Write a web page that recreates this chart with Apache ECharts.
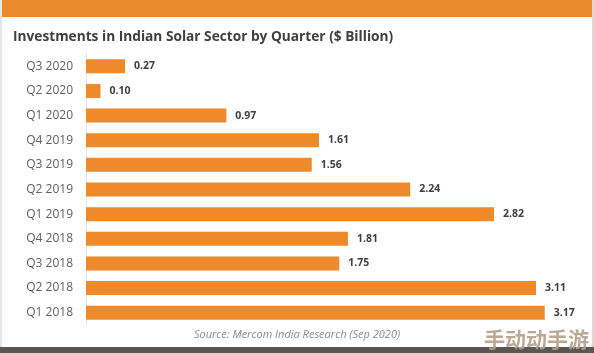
<!DOCTYPE html>
<html>
<head>
<meta charset="utf-8">
<script src="https://cdn.jsdelivr.net/npm/echarts@6/dist/echarts.min.js"></script>
<style>
  html, body { margin: 0; padding: 0; background: #fff; }
  #chart { width: 594px; height: 353px; }
</style>
</head>
<body>
<div id="chart"></div>
<script>
// quarters, top to bottom as in the picture
const quarters = ['Q3 2020', 'Q2 2020', 'Q1 2020', 'Q4 2019', 'Q3 2019', 'Q2 2019',
  'Q1 2019', 'Q4 2018', 'Q3 2018', 'Q2 2018', 'Q1 2018'];
const investments = [0.27, 0.10, 0.97, 1.61, 1.56, 2.24, 2.82, 1.81, 1.75, 3.11, 3.17];

const chart = echarts.init(document.getElementById('chart'));
chart.setOption({
  backgroundColor: '#fff',
  animation: false,
  title: {
    text: 'Investments in Indian Solar Sector by Quarter ($ Billion)',
    left: 8,
    top: 25,
    textStyle: { fontFamily: 'Open Sans', fontWeight: 'bold', fontSize: 13.7, color: '#404040' }
  },
  grid: { left: 86, right: 16, top: 54, bottom: 28, containLabel: false },
  xAxis: {
    type: 'value',
    min: 0,
    max: 3.4,
    show: false
  },
  yAxis: {
    type: 'category',
    data: quarters,
    inverse: true,
    axisLine: { show: true, lineStyle: { color: '#e3e3e3', width: 1 } },
    axisTick: { show: false },
    axisLabel: { color: '#606060', fontFamily: 'Open Sans', fontSize: 12, margin: 13 }
  },
  series: [{
    type: 'bar',
    data: investments,
    barWidth: 14,
    itemStyle: { color: '#ee8a2a' },
    label: {
      show: true,
      position: 'right',
      distance: 9,
      formatter: p => p.value.toFixed(2),
      color: '#404040',
      fontFamily: 'Open Sans',
      fontWeight: 'bold',
      fontSize: 10.5
    }
  }],
  graphic: [
    { type: 'rect', shape: { x: 0, y: 0, width: 592, height: 17 }, style: { fill: '#e98a2c' } },
    { type: 'rect', shape: { x: 592, y: 0, width: 2, height: 353 }, style: { fill: '#d8d8d8' } },
    { type: 'rect', shape: { x: 0, y: 0, width: 2, height: 353 }, style: { fill: '#e6e6e6' } },
    { type: 'rect', shape: { x: 0, y: 347, width: 594, height: 6 }, style: { fill: '#5b5651' } },
    {
      type: 'text', left: 'center', top: 329,
      style: { text: 'Source: Mercom India Research (Sep 2020)', fill: '#8a8a8a',
        font: 'italic 11px "Open Sans"' }
    },
    {
      type: 'text', left: 484, top: 329,
      style: { text: '手动动手游', fill: 'rgba(180,160,138,0.9)',
        font: 'bold 21px "Noto Sans CJK SC"' }
    }
  ]
});
</script>
</body>
</html>
